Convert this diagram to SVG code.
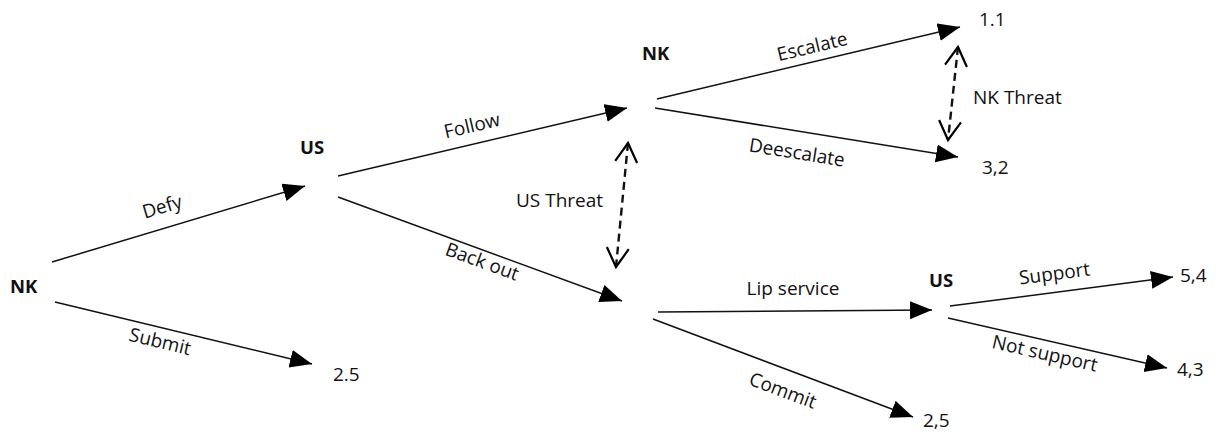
<svg xmlns="http://www.w3.org/2000/svg" width="1220" height="434" viewBox="0 0 1220 434">
<style>
text{font-family:"Open Sans","Liberation Sans",sans-serif;font-size:19px;fill:#111}
.node{font-weight:bold;font-size:18.5px}
.lbl{text-anchor:middle}
.edge{stroke:#111;stroke-width:1.5;fill:none;marker-end:url(#ah)}
.threat{stroke:#111;stroke-width:2.4;fill:none;stroke-dasharray:8 5;marker-start:url(#oh);marker-end:url(#oh)}
</style>
<defs>
<marker id="ah" markerUnits="userSpaceOnUse" markerWidth="24" markerHeight="20" refX="22" refY="9" orient="auto">
<path d="M0,0 L22,9 L0,18 z" fill="#000"/>
</marker>
<marker id="oh" markerUnits="userSpaceOnUse" markerWidth="24" markerHeight="28" refX="20" refY="12" orient="auto-start-reverse">
<path d="M1,1 L20,12 L1,23" fill="none" stroke="#000" stroke-width="2.2"/>
</marker>
</defs>
<g id="connectors">
<line class="edge" x1="52" y1="262" x2="305" y2="186"/>
<line class="edge" x1="55" y1="302" x2="312" y2="364"/>
<line class="edge" x1="338" y1="176" x2="627" y2="108"/>
<line class="edge" x1="338" y1="197" x2="622" y2="301"/>
<line class="edge" x1="657" y1="99" x2="960" y2="27"/>
<line class="edge" x1="655" y1="108" x2="958" y2="157"/>
<line class="edge" x1="658" y1="312" x2="932" y2="310"/>
<line class="edge" x1="653" y1="319" x2="913" y2="417"/>
<line class="edge" x1="950" y1="306" x2="1173" y2="277"/>
<line class="edge" x1="948" y1="318" x2="1167" y2="368"/>
<line class="threat" x1="628" y1="143" x2="616" y2="267"/>
<line class="threat" x1="958" y1="47" x2="948" y2="140"/>
<text class="lbl" transform="translate(164,213) rotate(-16.7)" dy="0">Defy</text>
<text class="lbl" transform="translate(160,342) rotate(13.6)" dy="6">Submit</text>
<text class="lbl" transform="translate(473,130) rotate(-13.2)" dy="2">Follow</text>
<text class="lbl" transform="translate(482,262) rotate(20.1)" dy="6">Back out</text>
<text x="516" y="207">US Threat</text>
<text class="lbl" transform="translate(813,50) rotate(-13.4)" dy="3">Escalate</text>
<text class="lbl" transform="translate(797,152) rotate(9.2)" dy="7">Deescalate</text>
<text x="973" y="104">NK Threat</text>
<text class="lbl" x="793" y="295">Lip service</text>
<text class="lbl" transform="translate(783,390) rotate(20.7)" dy="7">Commit</text>
<text class="lbl" transform="translate(1055,277) rotate(-7.4)" dy="3">Support</text>
<text class="lbl" transform="translate(1045,353) rotate(12.9)" dy="7">Not support</text>
</g>
<g id="n-nk1"><text class="node" x="10" y="293">NK</text></g>
<g id="n-us1"><text class="node" x="300" y="154">US</text></g>
<g id="n-nk2"><text class="node" x="642" y="60">NK</text></g>
<g id="n-us2"><text class="node" x="929" y="287">US</text></g>
<g id="p-25a"><text x="333" y="381">2.5</text></g>
<g id="p-11"><text x="979" y="26">1.1</text></g>
<g id="p-32"><text x="982" y="174">3,2</text></g>
<g id="p-25b"><text x="923" y="427">2,5</text></g>
<g id="p-54"><text x="1180" y="282">5,4</text></g>
<g id="p-43"><text x="1177" y="376">4,3</text></g>
</svg>
